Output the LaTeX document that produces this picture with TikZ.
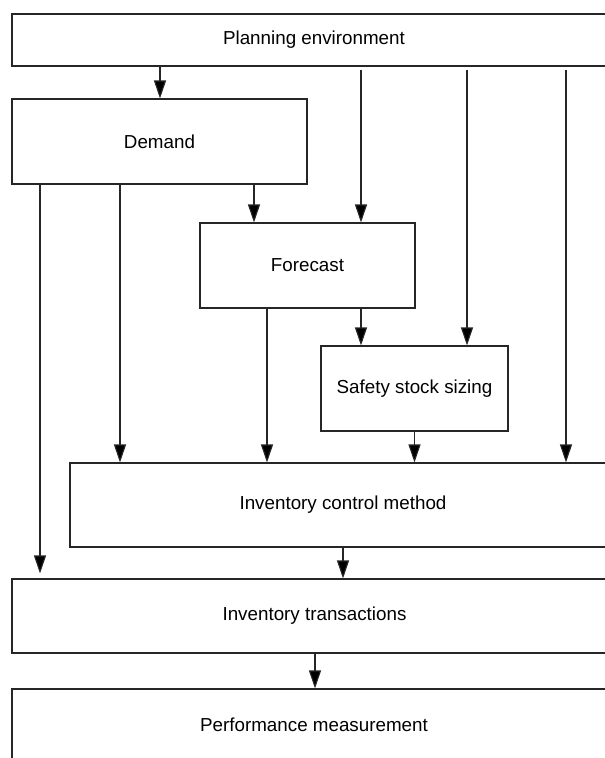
\documentclass[tikz,border=0pt]{standalone}
\usepackage{fontspec}
\setmainfont{Liberation Sans}
\usetikzlibrary{arrows.meta}
\begin{document}
\begin{tikzpicture}[x=1pt,y=-1pt,
  box/.style={draw=black!85, line width=1.1pt, rectangle, inner sep=0pt,
    font=\fontsize{18.8}{22}\selectfont},
  arr/.style={draw=black!85, line width=1.1pt,
    -{Triangle[length=18pt,width=12pt,fill=black]}}]
\useasboundingbox (0,0) rectangle (605,758);
\clip (0,0) rectangle (605,758);
\fill[white] (0,0) rectangle (605,758);

% boxes
\node[box, minimum width=604pt, minimum height=52pt] (pe)  at (314,40)    {Planning environment};
\node[box, minimum width=295pt, minimum height=85pt] (dem) at (159.5,141.5) {Demand};
\node[box, minimum width=215pt, minimum height=85pt] (fc)  at (307.5,265.5) {Forecast};
\node[box, minimum width=187pt, minimum height=85pt] (ss)  at (414.5,388.5) {Safety stock sizing};
\node[box, minimum width=546pt, minimum height=84pt] (icm) at (343,505)   {Inventory control method};
\node[box, minimum width=605pt, minimum height=74pt] (it)  at (314.5,616) {Inventory transactions};
\node[box, minimum width=604pt, minimum height=72pt] (pm)  at (314,725)   {Performance measurement};

% planning environment feeds
\draw[arr] (pe.south -| 160,0) -- (dem.north -| 160,0);
\draw[arr] ([yshift=-3pt]pe.south -| 361,0) -- (fc.north -| 361,0);
\draw[arr] ([yshift=-3pt]pe.south -| 467,0) -- (ss.north -| 467,0);
\draw[arr] ([yshift=-3pt]pe.south -| 566,0) -- (icm.north -| 566,0);

% demand feeds
\draw[arr] (dem.south -| 254,0) -- (fc.north -| 254,0);
\draw[arr] (dem.south -| 120,0) -- (icm.north -| 120,0);
\draw[arr] (dem.south -| 40,0) -- ([yshift=5pt]it.north -| 40,0);

% forecast feeds
\draw[arr] (fc.south -| 361,0) -- (ss.north -| 361,0);
\draw[arr] (fc.south -| 267,0) -- (icm.north -| 267,0);

% safety stock, control method, transactions
\draw[arr] (ss.south -| 414.5,0) -- (icm.north -| 414.5,0);
\draw[arr] (icm.south -| 343,0) -- (it.north -| 343,0);
\draw[arr] (it.south -| 315,0) -- (pm.north -| 315,0);
\end{tikzpicture}
\end{document}
